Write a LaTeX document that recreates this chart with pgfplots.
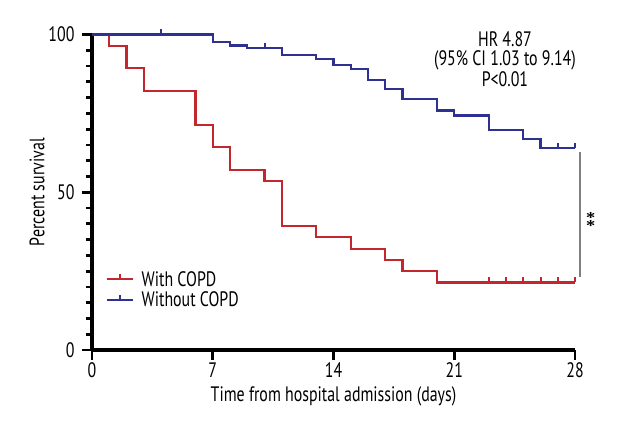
\documentclass[border=0pt]{standalone}
\usepackage{fontspec}
\setmainfont{PT Sans}[FakeStretch=0.76]
\usepackage{pgfplots}
\pgfplotsset{compat=1.18}
\definecolor{kmred}{HTML}{C1272D}
\definecolor{kmblue}{HTML}{2E3192}
\pgfdeclareplotmark{cens}{\pgfpathmoveto{\pgfpointorigin}\pgfpathlineto{\pgfpoint{0pt}{\pgfplotmarksize}}\pgfusepathqstroke}
\pgfplotsset{kmlegend/.style={legend image code/.code={
  \draw[##1,line width=2.2bp] (0bp,0bp) -- (26bp,0bp);
  \draw[##1,line width=2bp] (13bp,0bp) -- (13bp,5bp);}}}
\newcommand{\lblfont}{\fontsize{21}{23}\selectfont}
\begin{document}
\begin{tikzpicture}
\useasboundingbox (-92bp,-90bp) rectangle (548bp,350bp);
\begin{axis}[
  scale only axis, width=483bp, height=315.5bp,
  xmin=0, xmax=28, ymin=0, ymax=100,
  axis x line*=bottom, axis y line*=left,
  axis line style={line width=3.5bp},
  xtick={0,7,14,21,28}, ytick={0,50,100}, minor ytick={5,10,...,95},
  tick align=outside,
  major tick length=10bp, minor tick length=6bp,
  every tick/.style={black, line width=2.8bp},
  tick label style={font=\lblfont},
  yticklabel style={xshift=-4bp},
  xticklabel style={yshift=1bp},
  /pgf/number format/assume math mode=true,
  xlabel={Time from hospital admission (days)},
  ylabel={Percent survival},
  label style={font=\lblfont},
  xlabel style={at={(axis description cs:0.5,-0.1475)}, anchor=center},
  ylabel style={at={(axis description cs:-0.1139,0.5)}, anchor=center},
  clip=false,
  legend style={draw=none, fill=none, at={(axis cs:0.8,25.2)}, anchor=north west, font=\lblfont, row sep=3bp, inner sep=0pt, nodes={inner sep=0.5bp}, /tikz/every odd column/.append style={column sep=7bp}},
  legend cell align=left,
]
\addplot[kmred, line width=2.2bp, const plot mark left, kmlegend] coordinates {
(0,100) (1,96.4) (2,89.3) (3,82.1) (6,71.4) (7,64.3) (8,57.1) (10,53.6) (11,39.3) (13,35.7) (15,32.1) (17,28.6) (18,25) (20,21.4) (28,21.4)};
\addplot[kmblue, line width=2.2bp, const plot mark left, kmlegend] coordinates {
(0,100) (7,97.6) (8,96.5) (9,95.7) (11,93.6) (13,92.2) (14,90.4) (15,89.1) (16,85.5) (17,82.8) (18,79.6) (20,75.9) (21,74.3) (23,69.8) (25,66.9) (26,63.9) (28,63.9)};
\addplot[kmblue, line width=2bp, only marks, mark=cens, mark size=5bp, forget plot] coordinates {(4,100) (10,95.7) (27,63.9) (28,63.9)};
\addplot[kmred, line width=2bp, only marks, mark=cens, mark size=5bp, forget plot] coordinates {(23,21.4) (24,21.4) (25,21.4) (26,21.4) (27,21.4) (28,21.4)};
\legend{With COPD, Without COPD}
\draw[gray, line width=1.2bp] (axis cs:28.29,62.9) -- (axis cs:28.29,23.2);
\node[rotate=90, font=\fontsize{30}{32}\selectfont, inner sep=0pt] at (axis cs:29.3,41.5) {**};
\node[align=center, font=\fontsize{21}{19}\selectfont, inner sep=0pt] at (axis cs:23.94,92.2) {HR 4.87\\(95\% CI 1.03 to 9.14)\\P<0.01};
\end{axis}
\end{tikzpicture}
\end{document}
